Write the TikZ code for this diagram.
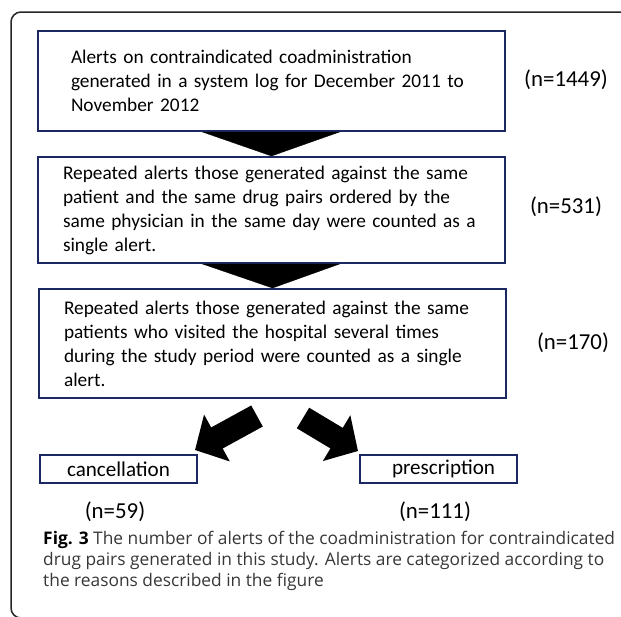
\documentclass[tikz,border=0pt]{standalone}
\usepackage{fontspec}
\setmainfont{Carlito}
\newfontfamily\captionfont{Open Sans}
\usetikzlibrary{calc,arrows.meta}
\definecolor{BoxBlue}{RGB}{28,40,98}
\definecolor{CapGray}{RGB}{55,55,55}
\tikzset{%
	% Style of the step boxes
	StepBox/.style={rectangle,draw=BoxBlue,line width=0.06cm,anchor=north west,align=left,inner ysep=0,
		minimum width=14.01cm,font=\fontsize{16.5}{20.5}\selectfont},
	% Style of the outcome boxes
	OutBox/.style={rectangle,draw=BoxBlue,line width=0.06cm,anchor=north west,inner sep=0,
		minimum width=4.71cm,minimum height=0.84cm,font=\fontsize{18}{20}\selectfont},
	% Style of the counts
	CountName/.style={font=\fontsize{19.5}{22}\selectfont,inner sep=0},
	% Style of the funnel triangles
	Funnel/.style={fill=black,draw=black,line width=0.01cm},
	% Style of the block arrows
	BlockArrow/.style={line width=0.72cm,-{Triangle[length=0.75cm,width=1.56cm]}},
	% Style of the outer frame
	Frame/.style={draw=black!85,line width=0.045cm,rounded corners=0.3cm},
}
\begin{document}
\begin{tikzpicture}[x=0.03cm,y=-0.03cm] % STYLES
\useasboundingbox (0,0) rectangle (621,616);
\clip (0,0) rectangle (621,616);
\draw[Frame] (640,12) -- (11,12) -- (11,618) -- (640,618);

%~~~~~~~~~~~~~~~~~~~~~~~~~~~~~~~~~~~~~~~~~~~~~~~~~~
% Set Boxes
%~~~~~~~~~~~~~~~~~~~~~~~~~~~~~~~~~~~~~~~~~~~~~~~~~~
\node[StepBox,minimum height=3cm,inner xsep=0.99cm,text width=12.03cm] (B1) at (37,30)
	{Alerts on contraindicated coadministration\\generated in a system log for December 2011 to\\November 2012};
\node[CountName] (N1) at (566,80) {(n=1449)};

\node[StepBox,minimum height=3.18cm,inner xsep=0.75cm,text width=12.51cm] (B2) at (37,156)
	{Repeated alerts those generated against the same\\patient and the same drug pairs ordered by the\\same physician in the same day were counted as a\\single alert.};
\node[CountName] (N2) at (566,207) {(n=531)};

\node[StepBox,minimum height=3.27cm,inner xsep=0.75cm,text width=12.51cm] (B3) at (38,288)
	{Repeated alerts those generated against the same\\patients who visited the hospital several times\\during the study period were counted as a single\\alert.};
\node[CountName] (N3) at (573,343) {(n=170)};

\node[OutBox] (C1) at (39,454) {cancellation};
\node[CountName] (N4) at (115,512) {(n=59)};

\node[OutBox] (C2) at (359,454) {\hspace{0.3cm}prescription};
\node[CountName] (N5) at (435,512) {(n=111)};

%~~~~~~~~~~~~~~~~~~~~~~~~~~~~~~~~~~~~~~~~~~~~~~~~~~
% Set Arrows
%~~~~~~~~~~~~~~~~~~~~~~~~~~~~~~~~~~~~~~~~~~~~~~~~~~
%Funnel from B1 to B2
\fill[Funnel] ($ (B1.south) + (-69, 0) $) -- ($ (B1.south) + (68, 0) $) -- (B2.north) -- cycle;

%Funnel from B2 to B3
\fill[Funnel] ($ (B2.south) + (-69, 0) $) -- ($ (B2.south) + (68, 0) $) -- (B3.north) -- cycle;

%Split from B3 to C1 and C2
\coordinate (T1) at (257,416);
\coordinate (T2) at (303,418);
\draw[BlockArrow] (T1) -- ($ (C1.north east) + (-3, -4) $);
\draw[BlockArrow] (T2) -- ($ (C2.north west) + (-1, -3) $);

%~~~~~~~~~~~~~~~~~~~~~~~~~~~~~~~~~~~~~~~~~~~~~~~~~~
% Caption
%~~~~~~~~~~~~~~~~~~~~~~~~~~~~~~~~~~~~~~~~~~~~~~~~~~
\node[anchor=north west,align=left,inner sep=0,text=CapGray,font=\captionfont\fontsize{14.8}{17.8}\selectfont] (Cap) at (43,531)
	{\textbf{\color{black}Fig. 3} The number of alerts of the coadministration for contraindicated\\drug pairs generated in this study. Alerts are categorized according to\\the reasons described in the figure};

\end{tikzpicture}
\end{document}
